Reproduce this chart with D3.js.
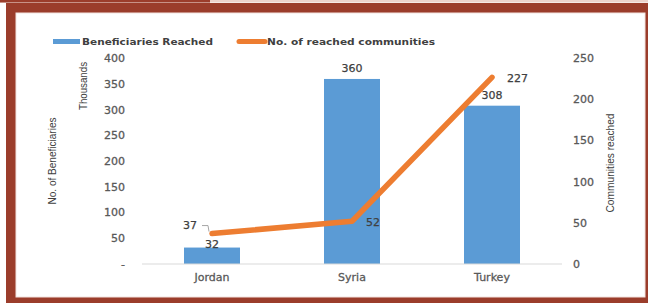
<!DOCTYPE html>
<html lang="en">
<head>
  <meta charset="UTF-8">
  <title>Beneficiaries and communities reached</title>
  <script src="https://d3js.org/d3.v7.min.js"></script>
  <style>
    body { margin: 0; background: #fff; }
    svg { display: block; }
    .tick-label { font-family: "DejaVu Sans", Verdana, sans-serif; font-size: 11px; fill: #595959; stroke: #595959; stroke-width: 0.3px; }
    .legend { font-family: "DejaVu Sans", Verdana, sans-serif; font-size: 9.5px; font-weight: bold; fill: #404040; }
    .axis-title { font-family: "Liberation Sans", Arial, sans-serif; font-size: 11px; fill: #404040; }
    .data-label { font-family: "DejaVu Sans", Verdana, sans-serif; font-size: 11px; fill: #404040; stroke: #404040; stroke-width: 0.25px; }
  </style>
</head>
<body>
  <div id="chart"></div>
  <script>
    // values
    const countries = ["Jordan", "Syria", "Turkey"];
    const beneficiaries = [32, 360, 308];       // thousands
    const communities = [37, 52, 227];
    const leftTicks = [0, 50, 100, 150, 200, 250, 300, 350, 400];
    const rightTicks = [0, 50, 100, 150, 200, 250];

    const W = 648, H = 303;
    const svg = d3.select("#chart").append("svg")
      .attr("width", W).attr("height", H);

    // brown frame
    svg.append("rect").attr("x", 0).attr("y", 0).attr("width", W).attr("height", 2.5).attr("fill", "#ecd3cc");
    svg.append("rect").attr("x", 0).attr("y", 0).attr("width", 210).attr("height", 2.5).attr("fill", "#9b3d2b");
    svg.append("rect").attr("x", 6).attr("y", 3).attr("width", W - 6).attr("height", H - 3).attr("fill", "#9b3d2b");
    svg.append("rect").attr("x", 15.5).attr("y", 12.5).attr("width", 630).attr("height", 285)
      .attr("fill", "#f3e3df");
    svg.append("rect").attr("x", 16.5).attr("y", 13.5).attr("width", 628).attr("height", 283)
      .attr("fill", "#fff");

    const plot = { left: 142, right: 562, top: 58.4, bottom: 264 };

    const x = d3.scaleBand().domain(countries)
      .range([plot.left, plot.right])
      .paddingInner(0.6).paddingOuter(0.3);
    const xc = d => x(d) + x.bandwidth() / 2;
    const yL = d3.scaleLinear().domain([0, 400]).range([plot.bottom, plot.top]);
    const yR = d3.scaleLinear().domain([0, 250]).range([plot.bottom, plot.top]);

    // bars
    svg.selectAll(".bar").data(countries).enter().append("rect")
      .attr("class", "bar")
      .attr("x", d => x(d))
      .attr("width", x.bandwidth())
      .attr("y", (d, i) => yL(beneficiaries[i]))
      .attr("height", (d, i) => yL(0) - yL(beneficiaries[i]))
      .attr("fill", "#5b9bd5");

    // baseline
    svg.append("line")
      .attr("x1", plot.left).attr("x2", plot.right)
      .attr("y1", yL(0)).attr("y2", yL(0))
      .attr("stroke", "#d9d9d9").attr("stroke-width", 1);

    // left axis labels
    svg.selectAll(".ltick").data(leftTicks).enter().append("text")
      .attr("class", "tick-label")
      .attr("x", 125).attr("y", d => yL(d)).attr("dy", "0.35em")
      .attr("text-anchor", "end")
      .text(d => d === 0 ? "-" : d);

    // right axis labels
    svg.selectAll(".rtick").data(rightTicks).enter().append("text")
      .attr("class", "tick-label")
      .attr("x", 573).attr("y", d => yR(d)).attr("dy", "0.35em")
      .text(d => d);

    // category labels
    svg.selectAll(".cat").data(countries).enter().append("text")
      .attr("class", "tick-label")
      .attr("x", d => xc(d)).attr("y", 277).attr("dy", "0.35em")
      .attr("text-anchor", "middle")
      .text(d => d);

    // line
    const line = d3.line().x(d => xc(d)).y((d, i) => yR(communities[i]));
    svg.append("path").datum(countries)
      .attr("d", line)
      .attr("fill", "none")
      .attr("stroke", "#ed7d31")
      .attr("stroke-width", 5.5)
      .attr("stroke-linecap", "round")
      .attr("stroke-linejoin", "round");

    // bar data labels
    svg.selectAll(".blabel").data(countries).enter().append("text")
      .attr("class", "data-label")
      .attr("x", d => xc(d))
      .attr("y", (d, i) => i === 0 ? yL(beneficiaries[i]) - 3 : yL(beneficiaries[i]) - 11)
      .attr("dy", "0.35em")
      .attr("text-anchor", "middle")
      .text((d, i) => beneficiaries[i]);

    // line data labels
    const lineLabelOffsets = [[-29, -8], [14, 1], [15, 1]];
    svg.selectAll(".llabel").data(countries).enter().append("text")
      .attr("class", "data-label")
      .attr("x", (d, i) => xc(d) + lineLabelOffsets[i][0])
      .attr("y", (d, i) => yR(communities[i]) + lineLabelOffsets[i][1])
      .attr("dy", "0.35em")
      .text((d, i) => communities[i]);

    // leader line for Jordan's 37
    const jx = xc("Jordan"), jy = yR(communities[0]);
    svg.append("path")
      .attr("d", `M${jx - 10},${jy - 8} L${jx - 4},${jy - 8} L${jx - 3},${jy - 2}`)
      .attr("fill", "none").attr("stroke", "#a6a6a6").attr("stroke-width", 1);

    // axis titles
    svg.append("text").attr("class", "axis-title")
      .attr("transform", "translate(87,86) rotate(-90)")
      .attr("text-anchor", "middle")
      .attr("textLength", 48).attr("lengthAdjust", "spacingAndGlyphs")
      .text("Thousands");
    svg.append("text").attr("class", "axis-title")
      .attr("transform", "translate(56,161) rotate(-90)")
      .attr("text-anchor", "middle")
      .attr("textLength", 87).attr("lengthAdjust", "spacingAndGlyphs")
      .text("No. of Beneficiaries");
    svg.append("text").attr("class", "axis-title")
      .attr("transform", "translate(614,163) rotate(-90)")
      .attr("text-anchor", "middle")
      .attr("textLength", 99).attr("lengthAdjust", "spacingAndGlyphs")
      .text("Communities reached");

    // legend
    svg.append("rect").attr("x", 53).attr("y", 39).attr("width", 27).attr("height", 5).attr("fill", "#5b9bd5");
    svg.append("text").attr("class", "legend")
      .attr("x", 82).attr("y", 41.5).attr("dy", "0.35em")
      .attr("textLength", 131).attr("lengthAdjust", "spacingAndGlyphs")
      .text("Beneficiaries Reached");
    svg.append("line").attr("x1", 239).attr("x2", 265).attr("y1", 41.5).attr("y2", 41.5)
      .attr("stroke", "#ed7d31").attr("stroke-width", 5).attr("stroke-linecap", "round");
    svg.append("text").attr("class", "legend")
      .attr("x", 267).attr("y", 41.5).attr("dy", "0.35em")
      .attr("textLength", 168).attr("lengthAdjust", "spacingAndGlyphs")
      .text("No. of reached communities");
  </script>
</body>
</html>
